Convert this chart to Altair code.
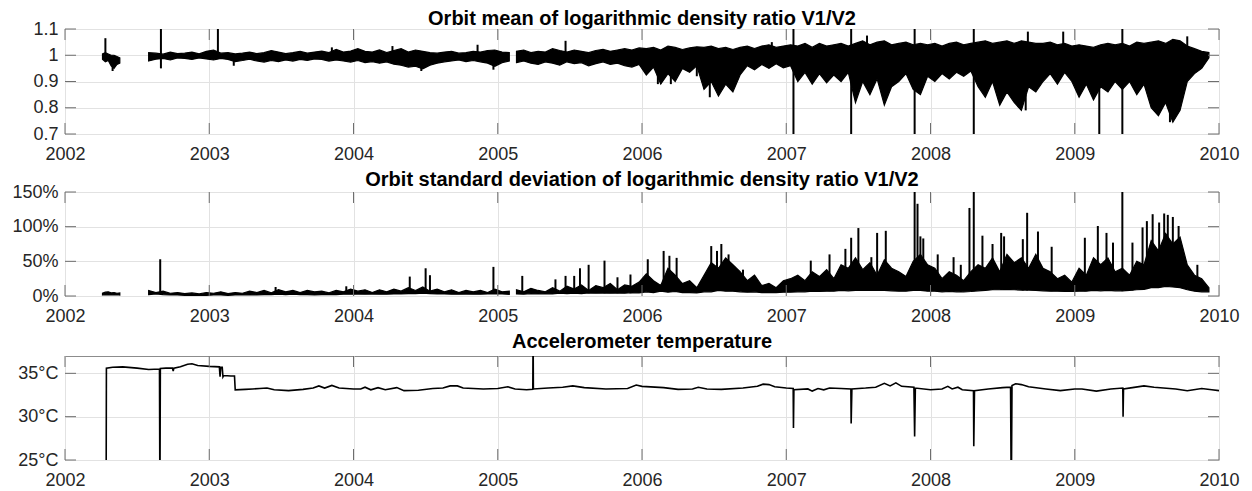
import altair as alt
import pandas as pd

FONT = "Liberation Sans"
W = 1154
YEARS = [2002, 2003, 2004, 2005, 2006, 2007, 2008, 2009, 2010]

# ---------------- Panel 1: orbit mean of log density ratio ----------------
M_A_START, M_A_STEP = 2002.26, 0.02
M_A_LO = [0.985, 0.975, 0.98, 0.96, 0.95, 0.965, 0.97]
M_A_HI = [1.005, 1.01, 1.005, 1.0, 1.0, 0.995, 0.99]

M_B_START, M_B_STEP = 2002.58, 0.05
M_B_LO = [0.978, 0.985, 0.988, 0.982, 0.99, 0.988, 0.984, 0.99, 0.986, 0.982,
          0.988, 0.984, 0.976, 0.98, 0.985, 0.978, 0.974, 0.98, 0.976, 0.982,
          0.978, 0.984, 0.98, 0.986, 0.984, 0.978, 0.982, 0.978, 0.974, 0.98,
          0.972, 0.976, 0.97, 0.975, 0.966, 0.962, 0.955, 0.958, 0.948, 0.962,
          0.97, 0.975, 0.978, 0.982, 0.976, 0.98, 0.975, 0.97, 0.958, 0.972,
          0.978]
M_B_HI = [1.01, 1.008, 1.004, 1.012, 1.006, 1.008, 1.012, 1.005, 1.015, 1.02,
          1.008, 1.01, 1.005, 1.008, 1.012, 1.006, 1.01, 1.018, 1.012, 1.006,
          1.01, 1.015, 1.008, 1.012, 1.016, 1.01, 1.022, 1.012, 1.016, 1.025,
          1.015, 1.012, 1.02, 1.01, 1.018, 1.025, 1.012, 1.02, 1.015, 1.01,
          1.008, 1.012, 1.015, 1.008, 1.01, 1.015, 1.012, 1.018, 1.02, 1.012,
          1.01]

M_C_START, M_C_STEP = 2005.13, 0.05
M_C_LO = [0.972, 0.978, 0.97, 0.965, 0.975, 0.97, 0.962, 0.975, 0.968, 0.972,
          0.96, 0.968, 0.975, 0.965, 0.97, 0.96, 0.955, 0.965,
          0.925, 0.955, 0.89, 0.93, 0.9, 0.95, 0.935, 0.96,
          0.87, 0.9, 0.845, 0.89, 0.86,
          0.925, 0.96, 0.945, 0.965, 0.95, 0.968, 0.952, 0.96,
          0.9, 0.935, 0.89, 0.93, 0.895, 0.925, 0.9, 0.935,
          0.82, 0.9, 0.85, 0.91, 0.81, 0.88, 0.9, 0.93, 0.87,
          0.85, 0.92, 0.9, 0.93, 0.91, 0.935, 0.92, 0.94,
          0.88, 0.84, 0.9, 0.81, 0.86, 0.82, 0.79, 0.88, 0.86,
          0.9, 0.93, 0.89, 0.935, 0.9,
          0.84, 0.89, 0.83, 0.88,
          0.86, 0.9, 0.87, 0.9, 0.85, 0.89,
          0.8, 0.77, 0.82, 0.745, 0.79,
          0.9, 0.93, 0.95, 0.99]
M_C_HI = [1.015, 1.02, 1.01, 1.015, 1.012, 1.025, 1.018, 1.012, 1.02, 1.015,
          1.01, 1.018, 1.022, 1.015, 1.02, 1.025, 1.02, 1.028,
          1.025, 1.03, 1.02, 1.035, 1.03, 1.022, 1.028, 1.032,
          1.03, 1.035, 1.025, 1.03, 1.022,
          1.03, 1.035, 1.025, 1.035, 1.04, 1.03, 1.035, 1.04,
          1.035, 1.045, 1.03, 1.045, 1.035, 1.04, 1.045, 1.035,
          1.045, 1.055, 1.04, 1.05, 1.055, 1.04, 1.045, 1.05, 1.04,
          1.045, 1.04, 1.045, 1.035, 1.045, 1.05, 1.04, 1.045,
          1.05, 1.055, 1.045, 1.05, 1.055, 1.045, 1.055, 1.05, 1.045,
          1.045, 1.05, 1.04, 1.045, 1.035,
          1.04, 1.035, 1.03, 1.04,
          1.045, 1.04, 1.045, 1.035, 1.05, 1.045,
          1.05, 1.055, 1.045, 1.06, 1.055,
          1.035, 1.025, 1.015, 1.01]

M_SPIKE_T = [2002.28, 2002.33, 2002.665, 2003.06, 2003.17, 2003.85, 2004.27,
             2004.47, 2004.86, 2004.97, 2005.47, 2006.11, 2006.20, 2006.38,
             2006.47, 2006.90, 2007.05, 2007.45, 2007.56, 2007.89, 2008.30,
             2008.66, 2008.675, 2008.92, 2009.17, 2009.33, 2009.66, 2009.78]
M_SPIKE_LO = [0.99, 0.94, 0.95, 0.99, 0.96, 0.99, 0.99,
              0.94, 1.0, 0.945, 1.0, 0.89, 0.89, 0.92,
              0.84, 1.0, 0.7, 0.7, 1.0, 0.7, 0.7,
              0.79, 1.0, 1.0, 0.7, 0.7, 0.745, 1.0]
M_SPIKE_HI = [1.065, 0.98, 1.1, 1.1, 1.0, 1.03, 1.035,
              0.98, 1.04, 0.98, 1.055, 0.95, 0.95, 0.97,
              0.9, 1.05, 1.1, 1.1, 1.075, 1.1, 1.1,
              0.85, 1.09, 1.09, 0.95, 1.1, 0.8, 1.072]
M_YTICKS = [0.7, 0.8, 0.9, 1.0, 1.1]

# ---------------- Panel 2: orbit standard deviation (%) ----------------
S_A_START, S_A_STEP = 2002.26, 0.02
S_A_LO = [1.5, 2, 1.5, 2, 1.5, 2, 1.5]
S_A_HI = [4, 5.5, 6, 4.5, 5, 4, 4.5]

S_B_START, S_B_STEP = 2002.58, 0.05
S_B_LO = [2, 3, 2, 1.5, 1.5, 1, 1, 1, 1, 1.5,
          1.5, 1, 1.5, 1.5, 2, 1.5, 2, 2, 2.5, 2,
          2.5, 2, 2, 1.5, 2, 2, 2, 2.5, 2.5, 3,
          2.5, 3, 2.5, 2.5, 3, 3, 3.5, 3.5, 4, 3.5,
          3, 3, 2.5, 2.5, 3, 2.5, 2.5, 3, 3, 3,
          2.5]
S_B_HI = [8, 5, 7, 4, 5, 3.5, 4.5, 3, 5, 4,
          6, 3.5, 5, 4, 7, 5, 8, 4.5, 9, 6,
          8, 5, 8, 6, 7, 4.5, 8, 6, 10, 7,
          9, 5, 9, 6, 10, 7, 12, 8, 13, 7,
          10, 6, 9, 5, 8, 6, 8, 5, 10, 6,
          7]

S_C_START, S_C_STEP = 2005.13, 0.05
S_C_LO = [3, 2.5, 3.5, 3, 3.5, 3, 4, 3.5, 4, 3.5, 4.5, 4, 4.5, 4, 4.5, 4, 5, 4.5,
          6, 5, 7, 5.5, 6.5, 5, 5, 4.5,
          6, 6, 8, 7, 7,
          6, 5.5, 6, 5, 5, 5, 5.5, 5.5,
          6, 6, 7, 6.5, 7, 7, 8, 7.5,
          8, 8, 8.5, 8, 8, 7.5, 7, 7, 8,
          8, 7, 7, 6, 6.5, 6, 6, 6.5,
          7.5, 8, 9, 9, 9.5, 9, 8.5, 8.5, 8,
          7.5, 7, 7, 6.5, 6.5,
          7, 7, 8, 7.5,
          8, 7.5, 7.5, 8, 9, 9.5,
          12, 12, 14, 13, 12,
          9, 7, 6, 6]
S_C_HI = [9, 6, 11, 8, 6, 12, 7, 14, 10, 16, 8, 15, 12, 18, 9, 16, 14, 20,
          32, 22, 15, 40, 30, 18, 22, 12,
          30, 48, 40, 55, 45,
          35, 22, 30, 15, 18, 12, 22, 25,
          30, 22, 35, 28, 38, 25, 45, 40,
          55, 38, 48, 30, 52, 40, 35, 28, 50,
          60, 45, 40, 25, 35, 30, 22, 35,
          45, 40, 55, 35, 60, 48, 55, 40, 60,
          40, 35, 25, 30, 20,
          40, 30, 55, 45,
          55, 35, 40, 30, 50, 45,
          80, 65, 90, 75, 85,
          45, 30, 25, 12]

S_SPIKE_T = [2002.66, 2003.46, 2003.95, 2004.39, 2004.50, 2004.53, 2004.97,
             2005.17, 2005.40, 2005.47, 2005.53, 2005.57, 2005.63, 2005.74,
             2005.83, 2005.92, 2006.04, 2006.15, 2006.19, 2006.24, 2006.48,
             2006.52, 2006.55, 2006.60, 2006.70, 2007.17, 2007.30, 2007.41,
             2007.45, 2007.50, 2007.59, 2007.63, 2007.69, 2007.89, 2007.91,
             2007.93, 2007.95, 2008.05, 2008.16, 2008.21, 2008.27, 2008.30,
             2008.36, 2008.43, 2008.49, 2008.51, 2008.64, 2008.67, 2008.745,
             2008.84, 2009.07, 2009.16, 2009.22, 2009.265, 2009.33, 2009.40,
             2009.47, 2009.50, 2009.54, 2009.585, 2009.62, 2009.645, 2009.68,
             2009.72, 2009.85]
S_SPIKE_LO = [3, 3, 3, 4, 4, 4, 4,
              4, 4, 4, 4, 4, 4, 4,
              4, 4, 6, 6, 6, 6, 8,
              8, 8, 8, 6, 7, 7, 8,
              8, 8, 8, 8, 8, 8, 8,
              8, 8, 7, 6, 6, 7, 7,
              8, 9, 9, 9, 8, 8, 8,
              7, 7, 8, 8, 8, 7, 8,
              10, 10, 12, 13, 14, 14, 13,
              12, 7]
S_SPIKE_HI = [53, 13, 14, 28, 40, 30, 42,
              29, 24, 29, 29, 40, 45, 51,
              27, 31, 53, 65, 58, 55, 72,
              65, 75, 60, 38, 51, 60, 68,
              84, 98, 56, 91, 94, 150, 133,
              86, 83, 60, 56, 45, 127, 150,
              87, 75, 91, 86, 82, 120, 93,
              71, 84, 101, 91, 77, 150, 77,
              99, 108, 118, 106, 119, 117, 114,
              101, 45]
S_YTICKS = [0, 50, 100, 150]

# ---------------- Panel 3: accelerometer temperature (°C) ----------------
T_T = [2002.285, 2002.287, 2002.33, 2002.40, 2002.50, 2002.58, 2002.655, 2002.658,
       2002.661, 2002.70, 2002.745, 2002.75, 2002.755, 2002.80, 2002.85, 2002.88,
       2002.92, 2003.00, 2003.07, 2003.075, 2003.08, 2003.09, 2003.095, 2003.10,
       2003.15, 2003.175, 2003.18, 2003.25, 2003.30, 2003.35, 2003.40, 2003.45,
       2003.55, 2003.65, 2003.72, 2003.76, 2003.80, 2003.85, 2003.90, 2004.00,
       2004.05, 2004.08, 2004.12, 2004.17, 2004.22, 2004.30, 2004.35, 2004.45,
       2004.55, 2004.62, 2004.67, 2004.72, 2004.76, 2004.90, 2005.00, 2005.07,
       2005.12, 2005.20, 2005.243, 2005.245, 2005.247, 2005.35, 2005.45, 2005.52,
       2005.60, 2005.75, 2005.90, 2005.96, 2006.00, 2006.15, 2006.25, 2006.35,
       2006.39, 2006.45, 2006.55, 2006.70, 2006.80, 2006.84, 2006.88, 2006.92,
       2007.00, 2007.048, 2007.05, 2007.053, 2007.15, 2007.18, 2007.22, 2007.26,
       2007.30, 2007.38, 2007.448, 2007.45, 2007.455, 2007.55, 2007.62, 2007.68,
       2007.72, 2007.76, 2007.80, 2007.885, 2007.89, 2007.895, 2008.00, 2008.08,
       2008.12, 2008.15, 2008.19, 2008.22, 2008.298, 2008.30, 2008.305, 2008.40,
       2008.50, 2008.555, 2008.56, 2008.565, 2008.59, 2008.63, 2008.68, 2008.80,
       2008.90, 2009.00, 2009.05, 2009.15, 2009.25, 2009.333, 2009.335, 2009.338,
       2009.40, 2009.48, 2009.55, 2009.70, 2009.78, 2009.88, 2009.95, 2010.00]
T_V = [20.0, 35.6, 35.7, 35.75, 35.6, 35.45, 35.5, 20.0,
       35.55, 35.6, 35.6, 35.25, 35.6, 35.75, 36.05, 36.1,
       35.9, 35.8, 35.75, 34.6, 35.7, 35.7, 34.6, 34.75,
       34.7, 34.7, 33.1, 33.15, 33.2, 33.25, 33.3, 33.1,
       33.0, 33.15, 33.3, 33.55, 33.3, 33.6, 33.3, 33.2,
       33.2, 33.4, 33.1, 33.35, 33.1, 33.35, 33.0, 33.05,
       33.25, 33.3, 33.55, 33.55, 33.3, 33.2, 33.25, 33.45,
       33.2, 33.1, 33.15, 40.0, 33.2, 33.3, 33.4, 33.55,
       33.35, 33.2, 33.25, 33.65, 33.5, 33.35, 33.15, 33.2,
       33.4, 33.2, 33.15, 33.3, 33.5, 33.75, 33.7, 33.45,
       33.3, 33.25, 28.7, 33.1, 33.2, 32.95, 33.25, 33.1,
       33.3, 33.25, 33.2, 29.2, 33.2, 33.3, 33.4, 33.85,
       33.55, 33.9, 33.5, 33.4, 27.7, 33.3, 33.1, 33.2,
       33.5, 33.2, 33.4, 33.1, 33.0, 26.6, 33.0, 33.2,
       33.35, 33.4, 20.0, 33.6, 33.8, 33.7, 33.45, 33.2,
       33.0, 33.2, 33.2, 32.95, 33.2, 33.3, 30.0, 33.2,
       33.35, 33.55, 33.4, 33.2, 33.0, 33.25, 33.1, 33.0]
T_YTICKS = [25, 30, 35]

TITLES = ["Orbit mean of logarithmic density ratio V1/V2",
          "Orbit standard deviation of logarithmic density ratio V1/V2",
          "Accelerometer temperature"]


def band(start, step, lo, hi, seg):
    return pd.DataFrame({"t": [round(start + i * step, 4) for i in range(len(lo))],
                         "lo": lo, "hi": hi, "seg": seg})


def x_enc(field="t"):
    return alt.X(f"{field}:Q",
                 scale=alt.Scale(domain=[2002, 2010], nice=False, zero=False),
                 axis=alt.Axis(values=YEARS, format="d", title=None, grid=True,
                               gridColor="#e2e2e2", ticks=False, tickSize=0,
                               domain=False, labelFont=FONT, labelFontSize=18,
                               labelColor="#262626", labelPadding=11,
                               labelFlush=False))


def y_enc(field, domain, ticks, expr):
    return alt.Y(f"{field}:Q",
                 scale=alt.Scale(domain=domain, nice=False, zero=False),
                 axis=alt.Axis(values=ticks, labelExpr=expr, title=None, grid=True,
                               gridColor="#e2e2e2", ticks=False, tickSize=0,
                               domain=False, labelFont=FONT, labelFontSize=18,
                               labelColor="#262626", labelPadding=7,
                               minExtent=56, maxExtent=56))


def tick_layers(H, ydomain, yticks, expr):
    yr = pd.DataFrame({"t": YEARS})
    yv = pd.DataFrame({"v": yticks})
    style = dict(color="#6e6e6e", strokeWidth=1)
    top = alt.Chart(yr).mark_rule(**style).encode(
        x=x_enc(), y=alt.value(0), y2=alt.value(11))
    bot = alt.Chart(yr).mark_rule(**style).encode(
        x=x_enc(), y=alt.value(H - 11), y2=alt.value(H))
    left = alt.Chart(yv).mark_rule(**style).encode(
        y=y_enc("v", ydomain, yticks, expr), x=alt.value(0), x2=alt.value(11))
    right = alt.Chart(yv).mark_rule(**style).encode(
        y=y_enc("v", ydomain, yticks, expr), x=alt.value(W - 11), x2=alt.value(W))
    return [top, bot, left, right]


def title(text, off):
    return alt.TitleParams(text=text, font=FONT, fontSize=20, fontWeight="bold",
                           color="black", offset=off)


def band_panel(bands, spikes, ydomain, yticks, expr, H, ttl):
    df = pd.concat(bands, ignore_index=True)
    area = alt.Chart(df).mark_area(color="black", stroke="black", strokeWidth=1.2,
                                   clip=True).encode(
        x=x_enc(), y=y_enc("lo", ydomain, yticks, expr), y2="hi:Q", detail="seg:N")
    sp = pd.DataFrame({"t": spikes[0], "a": spikes[1], "b": spikes[2]})
    rules = alt.Chart(sp).mark_rule(color="black", strokeWidth=2, clip=True).encode(
        x=x_enc(), y=y_enc("a", ydomain, yticks, expr), y2="b:Q")
    return alt.layer(area, rules, *tick_layers(H, ydomain, yticks, expr)).properties(
        width=W, height=H, title=ttl)


p1 = band_panel(
    [band(M_A_START, M_A_STEP, M_A_LO, M_A_HI, "a"),
     band(M_B_START, M_B_STEP, M_B_LO, M_B_HI, "b"),
     band(M_C_START, M_C_STEP, M_C_LO, M_C_HI, "c")],
    (M_SPIKE_T, M_SPIKE_LO, M_SPIKE_HI), [0.7, 1.1], M_YTICKS,
    "format(datum.value, '~g')", 105, title(TITLES[0], -9))

p2 = band_panel(
    [band(S_A_START, S_A_STEP, S_A_LO, S_A_HI, "a"),
     band(S_B_START, S_B_STEP, S_B_LO, S_B_HI, "b"),
     band(S_C_START, S_C_STEP, S_C_LO, S_C_HI, "c")],
    (S_SPIKE_T, S_SPIKE_LO, S_SPIKE_HI), [0, 150], S_YTICKS,
    "datum.value + '%'", 104, title(TITLES[1], -7))

temp_df = pd.DataFrame({"t": T_T, "v": T_V})
T_EXPR = "datum.value + '°C'"
temp_line = alt.Chart(temp_df).mark_line(color="black", strokeWidth=1.6,
                                         clip=True).encode(
    x=x_enc(), y=y_enc("v", [25, 37], T_YTICKS, T_EXPR))
p3 = alt.layer(temp_line, *tick_layers(104, [25, 37], T_YTICKS, T_EXPR)).properties(
    width=W, height=104, title=title(TITLES[2], 4))

chart = alt.vconcat(p1, p2, p3, spacing=5).properties(
    padding={"left": 0, "top": 0, "right": 0, "bottom": 0},
    background="white",
).configure_view(stroke="#8c8c8c", strokeWidth=1)

chart.save("out.html", embed_options={"renderer": "svg", "actions": False})
